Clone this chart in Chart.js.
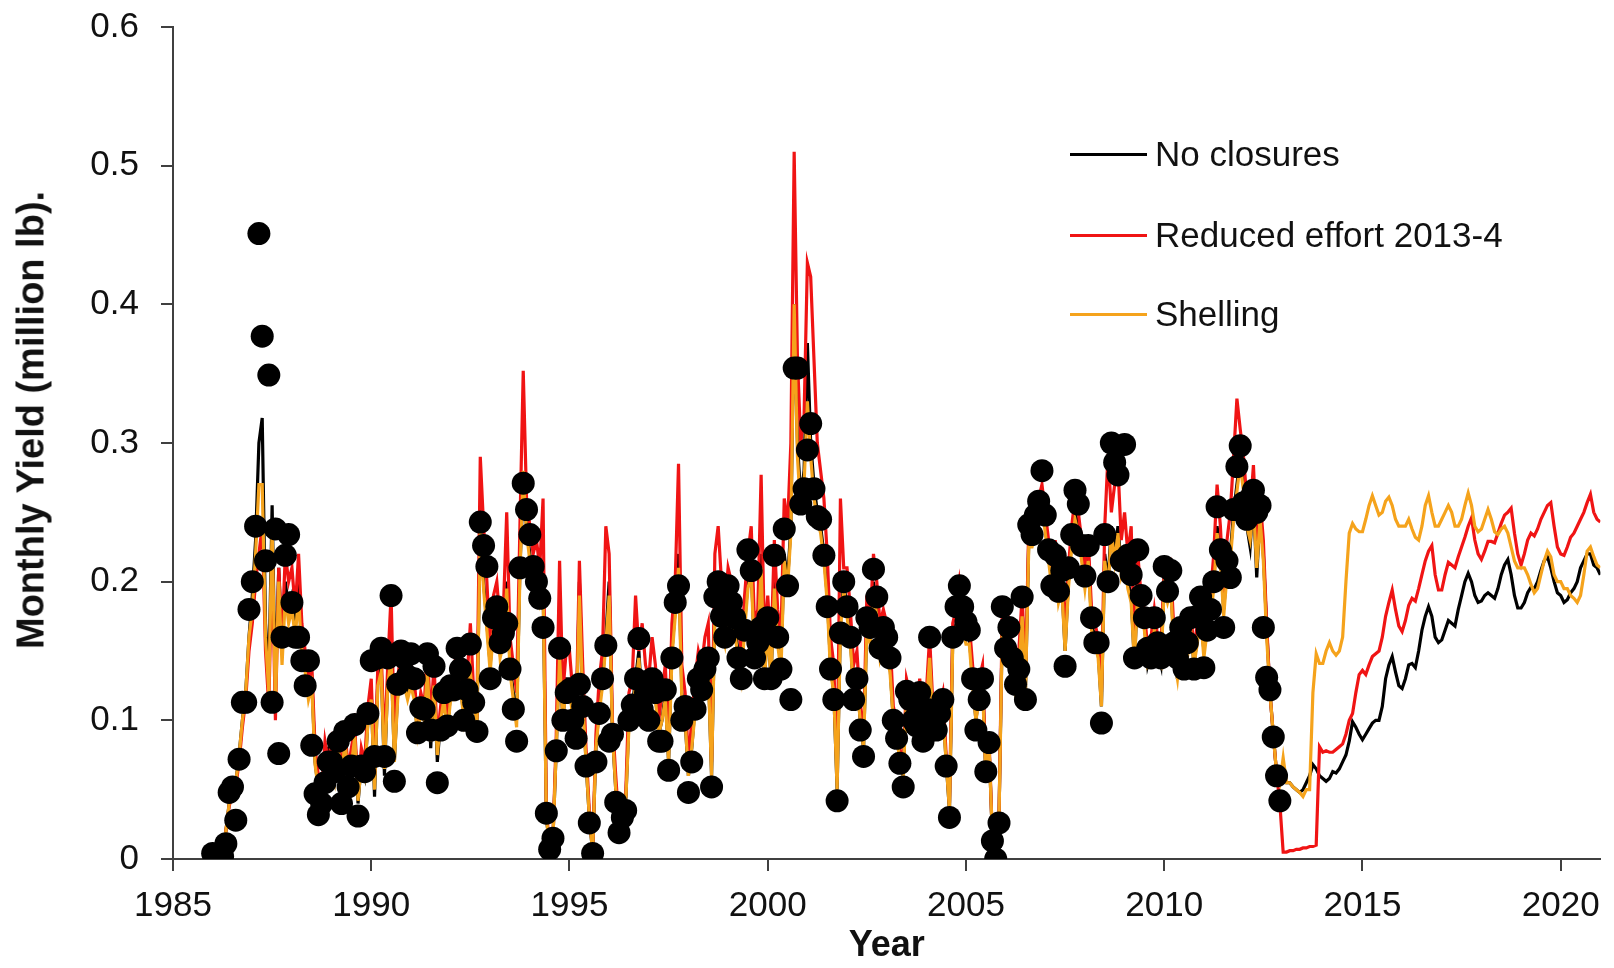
<!DOCTYPE html>
<html>
<head>
<meta charset="utf-8">
<script src="https://cdn.jsdelivr.net/npm/chart.js@4.4.1/dist/chart.umd.min.js"></script>
<style>
  html, body { margin: 0; padding: 0; background: #ffffff; }
  #wrap { position: relative; width: 1614px; height: 968px; }
  #c { position: absolute; left: 0; top: 0; }
  #legend { position: absolute; left: 1070px; top: 0; font-family: "Liberation Sans", Arial, sans-serif; font-size: 35px; color: #111; }
  .item { position: absolute; left: 0; height: 40px; white-space: nowrap; display: flex; align-items: center; }
  .swatch { width: 77px; height: 3px; margin-right: 8px; }
  #ytitle { position: absolute; left: 31px; top: 420px; transform: translate(-50%, -50%) rotate(-90deg);
            font-family: "Liberation Sans", Arial, sans-serif; font-weight: bold; font-size: 38px; color: #111; white-space: nowrap; }
</style>
</head>
<body>
<div id="wrap">
  <canvas id="c" width="1614" height="968"></canvas>
  <div id="legend"></div>
  <div id="ytitle"></div>
</div>
<script>
// Monthly series, first value = January 1986
const startYear = 1986;

// Observed monthly yield (dots), Jan 1986 - Dec 2012
const observed = [
  0.004, 0.001, 0.0, 0.002, 0.011, 0.048, 0.052, 0.028, 0.072, 0.113, 0.113, 0.18,   // 1986
  0.2, 0.24, 0.451, 0.377, 0.215, 0.349, 0.113, 0.238, 0.076, 0.16, 0.219, 0.234,    // 1987
  0.185, 0.16, 0.16, 0.143, 0.125, 0.143, 0.082, 0.047, 0.032, 0.04, 0.055, 0.07,    // 1988
  0.07, 0.063, 0.085, 0.04, 0.092, 0.052, 0.067, 0.097, 0.031, 0.067, 0.063, 0.105,  // 1989
  0.143, 0.074, 0.145, 0.152, 0.074, 0.145, 0.19, 0.056, 0.126, 0.15, 0.145, 0.132,  // 1990
  0.148, 0.13, 0.091, 0.109, 0.108, 0.148, 0.093, 0.139, 0.055, 0.093, 0.12, 0.096,  // 1991
  0.125, 0.122, 0.152, 0.137, 0.1, 0.122, 0.155, 0.113, 0.092, 0.243, 0.226, 0.211,  // 1992
  0.13, 0.174, 0.182, 0.156, 0.163, 0.17, 0.137, 0.108, 0.085, 0.21, 0.271, 0.252,   // 1993
  0.234, 0.211, 0.2, 0.188, 0.167, 0.033, 0.007, 0.015, 0.078, 0.152, 0.1, 0.12,     // 1994
  0.122, 0.1, 0.087, 0.126, 0.11, 0.067, 0.026, 0.004, 0.07, 0.105, 0.13, 0.154,     // 1995
  0.085, 0.09, 0.041, 0.019, 0.03, 0.035, 0.1, 0.111, 0.13, 0.159, 0.108, 0.12,      // 1996
  0.1, 0.13, 0.12, 0.085, 0.085, 0.122, 0.064, 0.145, 0.185, 0.197, 0.1, 0.11,       // 1997
  0.048, 0.07, 0.108, 0.13, 0.122, 0.137, 0.145, 0.052, 0.189, 0.2, 0.175, 0.16,     // 1998
  0.197, 0.185, 0.174, 0.145, 0.13, 0.165, 0.223, 0.208, 0.145, 0.156, 0.167, 0.13,  // 1999
  0.174, 0.13, 0.219, 0.16, 0.137, 0.238, 0.197, 0.115, 0.354, 0.354, 0.256, 0.267,  // 2000
  0.295, 0.314, 0.267, 0.247, 0.245, 0.219, 0.182, 0.137, 0.115, 0.042, 0.163, 0.2,  // 2001
  0.182, 0.16, 0.115, 0.13, 0.093, 0.074, 0.174, 0.167, 0.209, 0.189, 0.152, 0.167,  // 2002
  0.16, 0.145, 0.1, 0.087, 0.069, 0.052, 0.121, 0.115, 0.1, 0.096, 0.12, 0.085,      // 2003
  0.108, 0.16, 0.1, 0.093, 0.105, 0.115, 0.067, 0.03, 0.16, 0.182, 0.197, 0.182,     // 2004
  0.171, 0.165, 0.13, 0.093, 0.115, 0.13, 0.063, 0.084, 0.013, 0.0, 0.026, 0.182,    // 2005
  0.152, 0.167, 0.145, 0.126, 0.137, 0.189, 0.115, 0.241, 0.234, 0.248, 0.258, 0.28, // 2006
  0.248, 0.223, 0.197, 0.219, 0.193, 0.208, 0.139, 0.21, 0.234, 0.266, 0.256, 0.226, // 2007
  0.204, 0.226, 0.174, 0.156, 0.156, 0.098, 0.234, 0.2, 0.3, 0.286, 0.277, 0.215,    // 2008
  0.299, 0.219, 0.205, 0.145, 0.223, 0.19, 0.174, 0.152, 0.145, 0.174, 0.156, 0.145, // 2009
  0.211, 0.193, 0.208, 0.156, 0.145, 0.167, 0.137, 0.156, 0.174, 0.137, 0.175, 0.189,// 2010
  0.138, 0.165, 0.18, 0.2, 0.254, 0.223, 0.167, 0.215, 0.203, 0.252, 0.283, 0.298,   // 2011
  0.257, 0.245, 0.26, 0.266, 0.25, 0.255, 0.167, 0.131, 0.122, 0.088, 0.06, 0.042    // 2012
];

// Model: No closures (black), Jan 1986 - Jan 2021
const noClosures = [
  0.0, 0.002, 0.004, 0.008, 0.02, 0.04, 0.05, 0.055, 0.075, 0.1, 0.12, 0.16,
  0.19, 0.23, 0.3, 0.318, 0.17, 0.13, 0.255, 0.12, 0.21, 0.15, 0.2, 0.18,
  0.19, 0.17, 0.2, 0.15, 0.14, 0.12, 0.13, 0.07, 0.05, 0.045, 0.06, 0.08,
  0.08, 0.06, 0.085, 0.05, 0.09, 0.055, 0.07, 0.09, 0.04, 0.07, 0.06, 0.1,
  0.12, 0.045, 0.13, 0.14, 0.06, 0.13, 0.15, 0.07, 0.12, 0.14, 0.13, 0.12,
  0.13, 0.12, 0.09, 0.11, 0.1, 0.14, 0.08, 0.13, 0.07, 0.1, 0.12, 0.09,
  0.12, 0.12, 0.14, 0.13, 0.1, 0.12, 0.14, 0.11, 0.1, 0.24, 0.2, 0.17,
  0.14, 0.17, 0.18, 0.15, 0.16, 0.2, 0.14, 0.12, 0.1, 0.21, 0.27, 0.24,
  0.22, 0.2, 0.21, 0.19, 0.2, 0.03, 0.008, 0.015, 0.08, 0.15, 0.1, 0.13,
  0.13, 0.1, 0.09, 0.2, 0.12, 0.07, 0.03, 0.005, 0.08, 0.11, 0.13, 0.16,
  0.2, 0.09, 0.05, 0.02, 0.03, 0.04, 0.1, 0.11, 0.13, 0.15, 0.11, 0.12,
  0.11, 0.13, 0.12, 0.09, 0.1, 0.12, 0.07, 0.15, 0.18, 0.22, 0.12, 0.1,
  0.06, 0.08, 0.11, 0.13, 0.12, 0.14, 0.14, 0.06, 0.18, 0.2, 0.17, 0.16,
  0.19, 0.18, 0.17, 0.15, 0.13, 0.17, 0.2, 0.21, 0.15, 0.16, 0.22, 0.13,
  0.17, 0.13, 0.2, 0.16, 0.14, 0.22, 0.2, 0.24, 0.4, 0.3, 0.26, 0.28,
  0.372, 0.3, 0.27, 0.25, 0.24, 0.22, 0.19, 0.14, 0.12, 0.05, 0.17, 0.2,
  0.18, 0.16, 0.12, 0.13, 0.1, 0.08, 0.17, 0.16, 0.2, 0.18, 0.15, 0.16,
  0.15, 0.14, 0.1, 0.09, 0.07, 0.06, 0.12, 0.11, 0.1, 0.1, 0.12, 0.09,
  0.11, 0.15, 0.1, 0.09, 0.1, 0.11, 0.07, 0.035, 0.16, 0.17, 0.19, 0.17,
  0.16, 0.16, 0.13, 0.1, 0.12, 0.13, 0.06, 0.08, 0.015, 0.002, 0.03, 0.17,
  0.15, 0.16, 0.14, 0.12, 0.14, 0.18, 0.12, 0.23, 0.23, 0.24, 0.25, 0.26,
  0.24, 0.22, 0.2, 0.22, 0.19, 0.2, 0.15, 0.2, 0.23, 0.25, 0.24, 0.22,
  0.2, 0.22, 0.17, 0.16, 0.15, 0.11, 0.22, 0.2, 0.24, 0.22, 0.24, 0.21,
  0.22, 0.2, 0.19, 0.14, 0.2, 0.18, 0.17, 0.14, 0.15, 0.17, 0.15, 0.14,
  0.2, 0.19, 0.2, 0.15, 0.13, 0.16, 0.14, 0.15, 0.17, 0.14, 0.16, 0.18,
  0.15, 0.17, 0.18, 0.2, 0.24, 0.22, 0.18, 0.21, 0.22, 0.25, 0.27, 0.29,
  0.27, 0.24, 0.225, 0.26, 0.203, 0.25, 0.22, 0.167, 0.12, 0.09, 0.062, 0.055,
  0.06, 0.055, 0.055, 0.052, 0.05, 0.048, 0.05, 0.055, 0.06, 0.068, 0.065, 0.06,
  0.058, 0.056, 0.058, 0.063, 0.062, 0.065, 0.07, 0.075, 0.085, 0.099, 0.095, 0.09,
  0.086, 0.09, 0.094, 0.098, 0.1, 0.1, 0.11, 0.13, 0.14, 0.146, 0.135, 0.125,
  0.123, 0.13, 0.14, 0.141, 0.138, 0.15, 0.165, 0.175, 0.182, 0.175, 0.16, 0.156,
  0.158, 0.165, 0.172, 0.17, 0.168, 0.18, 0.19, 0.2, 0.206, 0.2, 0.19, 0.185,
  0.186, 0.19, 0.192, 0.19, 0.188, 0.195, 0.205, 0.212, 0.216, 0.205, 0.19, 0.181,
  0.181, 0.185, 0.192, 0.196, 0.195, 0.2, 0.208, 0.215, 0.218, 0.21, 0.2, 0.192,
  0.19, 0.185, 0.187, 0.192, 0.195, 0.2, 0.21, 0.215, 0.22, 0.22, 0.212, 0.21,
  0.205
];

// Model: Reduced effort 2013-4 (red), Jan 1986 - Jan 2021
const reducedEffort = [
  0.0, 0.002, 0.004, 0.008, 0.02, 0.038, 0.048, 0.052, 0.07, 0.095, 0.115, 0.15,
  0.17, 0.2, 0.22, 0.24, 0.15, 0.11, 0.22, 0.1, 0.21, 0.16, 0.22, 0.2,
  0.21, 0.18, 0.22, 0.17, 0.15, 0.13, 0.14, 0.08, 0.06, 0.05, 0.085, 0.07,
  0.085, 0.07, 0.09, 0.06, 0.095, 0.065, 0.08, 0.095, 0.05, 0.08, 0.07, 0.11,
  0.13, 0.06, 0.14, 0.15, 0.08, 0.14, 0.19, 0.09, 0.13, 0.15, 0.14, 0.13,
  0.14, 0.13, 0.1, 0.12, 0.11, 0.15, 0.1, 0.14, 0.085, 0.11, 0.13, 0.1,
  0.13, 0.13, 0.16, 0.14, 0.11, 0.13, 0.17, 0.12, 0.11, 0.29, 0.24, 0.2,
  0.15, 0.19, 0.2, 0.17, 0.18, 0.25, 0.16, 0.14, 0.12, 0.24, 0.352, 0.26,
  0.24, 0.22, 0.23, 0.21, 0.26, 0.035, 0.008, 0.015, 0.09, 0.215, 0.12, 0.15,
  0.15, 0.12, 0.1, 0.215, 0.14, 0.08, 0.035, 0.006, 0.09, 0.13, 0.15, 0.24,
  0.22, 0.1, 0.06, 0.025, 0.035, 0.045, 0.12, 0.13, 0.19, 0.15, 0.17, 0.14,
  0.13, 0.16, 0.14, 0.1, 0.12, 0.14, 0.08, 0.17, 0.2, 0.285, 0.14, 0.12,
  0.07, 0.1, 0.13, 0.15, 0.14, 0.16, 0.17, 0.07, 0.22, 0.24, 0.2, 0.18,
  0.21, 0.2, 0.19, 0.17, 0.15, 0.19, 0.22, 0.24, 0.17, 0.18, 0.277, 0.16,
  0.19, 0.15, 0.23, 0.18, 0.16, 0.26, 0.24, 0.3, 0.51, 0.36, 0.3, 0.32,
  0.43, 0.42, 0.36, 0.3, 0.28, 0.26, 0.22, 0.16, 0.14, 0.06, 0.26, 0.21,
  0.21, 0.18, 0.14, 0.15, 0.11, 0.09, 0.19, 0.17, 0.22, 0.2, 0.17, 0.18,
  0.17, 0.16, 0.11, 0.1, 0.08, 0.065, 0.13, 0.12, 0.11, 0.11, 0.13, 0.1,
  0.12, 0.16, 0.11, 0.1, 0.11, 0.12, 0.075, 0.04, 0.17, 0.18, 0.2, 0.18,
  0.17, 0.17, 0.14, 0.11, 0.13, 0.14, 0.065, 0.085, 0.015, 0.002, 0.03, 0.18,
  0.16, 0.17, 0.15, 0.13, 0.15, 0.19, 0.13, 0.24, 0.24, 0.25, 0.26, 0.27,
  0.25, 0.23, 0.21, 0.23, 0.2, 0.21, 0.16, 0.21, 0.24, 0.26, 0.25, 0.23,
  0.21, 0.23, 0.18, 0.17, 0.16, 0.12, 0.24, 0.292, 0.25, 0.27, 0.283, 0.23,
  0.25, 0.22, 0.24, 0.15, 0.22, 0.19, 0.18, 0.15, 0.16, 0.18, 0.16, 0.15,
  0.21, 0.2, 0.21, 0.16, 0.14, 0.17, 0.15, 0.16, 0.18, 0.15, 0.17, 0.19,
  0.16, 0.18, 0.19, 0.22, 0.27, 0.24, 0.19, 0.23, 0.25, 0.29, 0.332, 0.31,
  0.29, 0.26, 0.25, 0.284, 0.23, 0.26, 0.23, 0.17, 0.12, 0.09, 0.062, 0.04,
  0.005, 0.005, 0.006, 0.006, 0.007, 0.007, 0.008, 0.008, 0.009, 0.009, 0.01, 0.081,
  0.077, 0.078, 0.077, 0.077, 0.079, 0.081, 0.083, 0.09, 0.1, 0.105, 0.12, 0.133,
  0.136, 0.133, 0.14, 0.146, 0.148, 0.15, 0.16, 0.175, 0.185, 0.194, 0.18, 0.168,
  0.164, 0.172, 0.183, 0.188, 0.186, 0.195, 0.205, 0.215, 0.222, 0.226, 0.205, 0.194,
  0.194, 0.205, 0.214, 0.212, 0.21, 0.218, 0.225, 0.232, 0.24, 0.246, 0.23, 0.22,
  0.216, 0.222, 0.229, 0.229, 0.228, 0.235, 0.242, 0.248, 0.25, 0.253, 0.235, 0.22,
  0.212, 0.22, 0.23, 0.235, 0.233, 0.238, 0.245, 0.25, 0.255, 0.257, 0.24, 0.225,
  0.22, 0.219, 0.225, 0.232, 0.235, 0.24, 0.245, 0.25, 0.257, 0.263, 0.25, 0.245,
  0.243
];

// Model: Shelling (orange), Jan 1986 - Jan 2021
const shelling = [
  0.0, 0.002, 0.004, 0.008, 0.02, 0.04, 0.05, 0.055, 0.075, 0.1, 0.12, 0.16,
  0.18, 0.22, 0.27, 0.27, 0.16, 0.12, 0.24, 0.11, 0.2, 0.14, 0.19, 0.17,
  0.18, 0.16, 0.19, 0.145, 0.135, 0.115, 0.125, 0.068, 0.05, 0.045, 0.06, 0.075,
  0.075, 0.058, 0.082, 0.05, 0.088, 0.055, 0.068, 0.088, 0.042, 0.068, 0.06, 0.098,
  0.115, 0.05, 0.125, 0.135, 0.065, 0.125, 0.145, 0.07, 0.115, 0.135, 0.125, 0.115,
  0.125, 0.115, 0.09, 0.105, 0.1, 0.135, 0.085, 0.125, 0.075, 0.1, 0.115, 0.09,
  0.115, 0.115, 0.135, 0.125, 0.1, 0.115, 0.135, 0.11, 0.1, 0.235, 0.195, 0.165,
  0.135, 0.165, 0.175, 0.145, 0.155, 0.195, 0.135, 0.115, 0.095, 0.205, 0.28, 0.235,
  0.215, 0.195, 0.205, 0.185, 0.195, 0.03, 0.008, 0.015, 0.08, 0.145, 0.1, 0.125,
  0.125, 0.1, 0.09, 0.19, 0.115, 0.07, 0.03, 0.005, 0.08, 0.105, 0.125, 0.155,
  0.19, 0.09, 0.05, 0.02, 0.03, 0.04, 0.095, 0.105, 0.125, 0.145, 0.105, 0.115,
  0.105, 0.125, 0.115, 0.09, 0.1, 0.115, 0.07, 0.145, 0.175, 0.21, 0.115, 0.1,
  0.06, 0.08, 0.105, 0.125, 0.115, 0.135, 0.135, 0.06, 0.175, 0.195, 0.165, 0.155,
  0.185, 0.175, 0.165, 0.145, 0.13, 0.165, 0.195, 0.205, 0.145, 0.155, 0.21, 0.13,
  0.165, 0.13, 0.195, 0.155, 0.135, 0.215, 0.195, 0.235, 0.4, 0.29, 0.25, 0.27,
  0.33, 0.29, 0.26, 0.245, 0.235, 0.215, 0.185, 0.135, 0.12, 0.05, 0.165, 0.195,
  0.175, 0.155, 0.12, 0.125, 0.1, 0.08, 0.165, 0.155, 0.195, 0.175, 0.145, 0.155,
  0.145, 0.135, 0.1, 0.09, 0.07, 0.06, 0.115, 0.11, 0.1, 0.1, 0.115, 0.09,
  0.11, 0.145, 0.1, 0.09, 0.1, 0.105, 0.07, 0.035, 0.155, 0.165, 0.185, 0.165,
  0.155, 0.155, 0.125, 0.1, 0.115, 0.125, 0.06, 0.08, 0.015, 0.002, 0.03, 0.165,
  0.145, 0.155, 0.135, 0.12, 0.135, 0.175, 0.12, 0.225, 0.225, 0.235, 0.245, 0.255,
  0.235, 0.215, 0.195, 0.215, 0.185, 0.195, 0.15, 0.195, 0.225, 0.245, 0.235, 0.215,
  0.195, 0.215, 0.165, 0.155, 0.145, 0.11, 0.215, 0.195, 0.235, 0.215, 0.235, 0.205,
  0.215, 0.195, 0.185, 0.14, 0.195, 0.175, 0.165, 0.14, 0.145, 0.165, 0.145, 0.14,
  0.195, 0.185, 0.195, 0.145, 0.13, 0.155, 0.14, 0.145, 0.165, 0.14, 0.155, 0.175,
  0.145, 0.165, 0.175, 0.195, 0.235, 0.215, 0.175, 0.205, 0.215, 0.245, 0.265, 0.285,
  0.265, 0.24, 0.23, 0.255, 0.21, 0.245, 0.215, 0.16, 0.12, 0.09, 0.062, 0.055,
  0.073, 0.055, 0.055, 0.052, 0.05, 0.048, 0.045, 0.05, 0.05, 0.12, 0.148, 0.141,
  0.141, 0.15, 0.156, 0.15, 0.147, 0.15, 0.16, 0.2, 0.235, 0.242, 0.238, 0.236,
  0.236, 0.245, 0.255, 0.262, 0.255, 0.248, 0.25, 0.258, 0.261, 0.255, 0.245, 0.24,
  0.24, 0.24, 0.245, 0.238, 0.232, 0.23, 0.24, 0.255, 0.262, 0.25, 0.24, 0.24,
  0.245, 0.25, 0.255, 0.25, 0.24, 0.24, 0.245, 0.255, 0.264, 0.255, 0.24, 0.236,
  0.238, 0.245, 0.252, 0.245, 0.236, 0.234, 0.238, 0.24, 0.235, 0.225, 0.215, 0.21,
  0.21, 0.21, 0.205, 0.198, 0.192, 0.195, 0.205, 0.215, 0.222, 0.218, 0.205, 0.2,
  0.2, 0.195, 0.195, 0.19, 0.188, 0.185, 0.19, 0.205, 0.222, 0.225, 0.218, 0.212,
  0.21
];

const xTicks = [1985, 1990, 1995, 2000, 2005, 2010, 2015, 2020];
const yTicks = [0, 0.1, 0.2, 0.3, 0.4, 0.5, 0.6];

const seriesLabels = ['No closures', 'Reduced effort 2013-4', 'Shelling'];
const seriesColors = ['#000000', '#f01414', '#f5a31c'];
const xTitle = 'Year';
const yTitle = 'Monthly Yield (million lb).';

const FONT = '"Liberation Sans", Arial, sans-serif';
const AXIS = '#404040';

function toXY(arr) {
  return arr.map((v, i) => ({ x: startYear + i / 12, y: v }));
}

const lineSets = [noClosures, reducedEffort, shelling].map((arr, k) => ({
  type: 'line',
  label: seriesLabels[k],
  data: toXY(arr),
  borderColor: seriesColors[k],
  backgroundColor: seriesColors[k],
  borderWidth: 3.2,
  pointRadius: 0,
  tension: 0,
  fill: false,
  order: 3 - k
}));

const obsSet = {
  type: 'scatter',
  label: 'Observed',
  data: toXY(observed).filter(p => p.y !== null),
  backgroundColor: '#000000',
  borderColor: '#000000',
  borderWidth: 0,
  pointRadius: 11.5,
  order: 0
};

new Chart(document.getElementById('c'), {
  type: 'scatter',
  data: { datasets: [...lineSets, obsSet] },
  options: {
    responsive: false,
    animation: false,
    devicePixelRatio: 1,
    layout: { padding: { left: 0, right: 13, top: 27, bottom: 0 } },
    plugins: { legend: { display: false }, tooltip: { enabled: false } },
    scales: {
      x: {
        type: 'linear',
        min: 1985,
        max: 2021,
        afterBuildTicks: (s) => { s.ticks = xTicks.map(v => ({ value: v })); },
        afterFit: (s) => { s.height = 109; },
        ticks: {
          font: { family: FONT, size: 35 },
          color: '#111',
          padding: 14,
          maxRotation: 0,
          autoSkip: false,
          callback: (v) => String(v)
        },
        grid: { display: true, drawOnChartArea: false, drawTicks: true, tickLength: 12, color: AXIS, lineWidth: 2 },
        border: { display: true, color: AXIS, width: 2 },
        title: {
          display: true, text: xTitle, color: '#111',
          font: { family: FONT, size: 36, weight: 'bold', lineHeight: 1.2 },
          padding: { top: 0, bottom: 0 }
        }
      },
      y: {
        type: 'linear',
        min: 0,
        max: 0.6,
        afterBuildTicks: (s) => { s.ticks = yTicks.map(v => ({ value: v })); },
        afterFit: (s) => { s.width = 173; s.paddingTop = 0; s.paddingBottom = 0; },
        ticks: {
          font: { family: FONT, size: 35 },
          color: '#111',
          padding: 22,
          callback: (v) => (v === 0 ? '0' : Number(v).toFixed(1))
        },
        grid: { display: true, drawOnChartArea: false, drawTicks: true, tickLength: 12, color: AXIS, lineWidth: 2 },
        border: { display: true, color: AXIS, width: 2 },
        title: { display: false }
      }
    }
  }
});

// Y axis title (HTML text, rotated)
document.getElementById('ytitle').textContent = yTitle;

// Legend inside the plot (HTML text)
const legendTops = [134, 215, 294];
const legend = document.getElementById('legend');
seriesLabels.forEach((lab, k) => {
  const item = document.createElement('div');
  item.className = 'item';
  item.style.top = legendTops[k] + 'px';
  const sw = document.createElement('span');
  sw.className = 'swatch';
  sw.style.background = seriesColors[k];
  const tx = document.createElement('span');
  tx.textContent = lab;
  item.appendChild(sw);
  item.appendChild(tx);
  legend.appendChild(item);
});
</script>
</body>
</html>
